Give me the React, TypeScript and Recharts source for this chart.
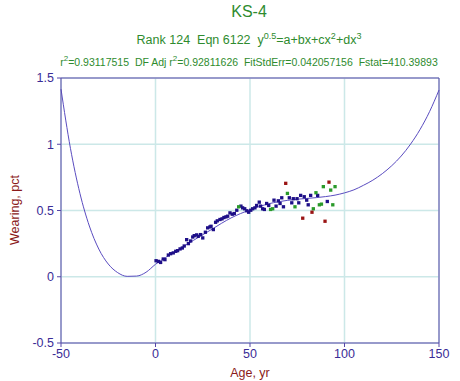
import { ComposedChart, Line, Scatter, XAxis, YAxis, ZAxis, CartesianGrid, ReferenceLine } from 'recharts'

// fitted curve, every 5 yr
const curveAge = [-50, -45, -40, -35, -30, -25, -20, -15, -10, -5, 0, 5, 10, 15, 20, 25, 30, 35, 40, 45, 50, 55, 60, 65, 70, 75, 80, 85, 90, 95, 100, 105, 110, 115, 120, 125, 130, 135, 140, 145, 150]
const curveWear = [1.416, 0.969, 0.63, 0.383, 0.209, 0.096, 0.031, 0.003, 0.005, 0.034, 0.094, 0.142, 0.186, 0.23, 0.274, 0.317, 0.36, 0.404, 0.444, 0.477, 0.505, 0.53, 0.551, 0.566, 0.577, 0.585, 0.591, 0.597, 0.605, 0.616, 0.633, 0.656, 0.69, 0.729, 0.778, 0.838, 0.911, 1.002, 1.112, 1.246, 1.409]

// measured points
const navyAge = [0.3, 1.5, 2.7, 4.1, 5.0, 6.8, 8.0, 9.4, 10.7, 11.7, 13.0, 14.2, 15.2, 16.5, 17.4, 18.6, 19.7, 20.5, 21.8, 22.6, 23.9, 25.0, 26.4, 27.6, 28.8, 29.4, 30.6, 31.8, 32.7, 34.1, 35.2, 36.2, 37.3, 38.2, 39.4, 40.6, 41.7, 43.0, 45.2, 46.1, 47.2, 48.3, 49.3, 50.4, 51.4, 52.6, 53.5, 54.9, 55.6, 56.7, 57.6, 58.8, 59.9, 62.7, 63.8, 65.0, 65.9, 66.8, 67.7, 70.8, 72.1, 72.9, 74.9, 75.8, 76.8, 78.7, 80.0, 80.8, 82.1, 85.8, 90.9]
const navyWear = [0.121, 0.116, 0.108, 0.134, 0.129, 0.164, 0.174, 0.18, 0.192, 0.197, 0.21, 0.217, 0.232, 0.28, 0.25, 0.27, 0.3, 0.31, 0.316, 0.305, 0.318, 0.293, 0.336, 0.369, 0.376, 0.381, 0.356, 0.411, 0.422, 0.432, 0.437, 0.447, 0.452, 0.457, 0.482, 0.472, 0.477, 0.502, 0.533, 0.52, 0.513, 0.498, 0.487, 0.502, 0.513, 0.52, 0.538, 0.563, 0.533, 0.513, 0.508, 0.553, 0.538, 0.578, 0.533, 0.573, 0.553, 0.596, 0.528, 0.596, 0.558, 0.589, 0.589, 0.558, 0.614, 0.604, 0.578, 0.543, 0.614, 0.614, 0.568]
const greenAge = [44.0, 60.9, 62.0, 69.8, 73.8, 83.5, 84.9, 86.7, 87.8, 88.8, 92.7, 93.8, 95.0]
const greenWear = [0.528, 0.508, 0.513, 0.629, 0.528, 0.513, 0.634, 0.543, 0.548, 0.68, 0.654, 0.543, 0.68]
const redAge = [68.9, 77.9, 82.8, 89.7, 91.8]
const redWear = [0.705, 0.442, 0.487, 0.419, 0.714]

const xTicks = [-50, 0, 50, 100, 150]
const yTicks = [-0.5, 0, 0.5, 1, 1.5]

const AXIS = '#5646a8'
const TICK = '#3a2c96'
const TITLE = '#2e8b2e'
const LABEL = '#8b1a1a'
const FONT = '"Liberation Sans", Arial, sans-serif'

const zip = (xs: number[], ys: number[]) => xs.map((x, i) => ({ x, y: ys[i] }))

export default function App() {
  const curve = zip(curveAge, curveWear)
  const navy = zip(navyAge, navyWear)
  const green = zip(greenAge, greenWear)
  const red = zip(redAge, redWear)

  return (
    <div style={{ position: 'relative', width: 460, height: 381, fontFamily: FONT, background: '#fff' }}>
      <style>{'body{margin:0}'}</style>
      <div style={{ position: 'absolute', left: 0, width: 498, top: 3, textAlign: 'center', fontSize: 16, color: TITLE }}>KS-4</div>
      <div style={{ position: 'absolute', left: 0, width: 498, top: 31, textAlign: 'center', fontSize: 12.5, color: TITLE }}>
        Rank 124&nbsp; Eqn 6122&nbsp; y<sup style={{ fontSize: 9 }}>0.5</sup>=a+bx+cx<sup style={{ fontSize: 9 }}>2</sup>+dx<sup style={{ fontSize: 9 }}>3</sup>
      </div>
      <div style={{ position: 'absolute', left: 0, width: 498, top: 54, textAlign: 'center', fontSize: 10.5, color: TITLE, whiteSpace: 'nowrap' }}>
        r<sup style={{ fontSize: 8 }}>2</sup>=0.93117515&nbsp; DF Adj r<sup style={{ fontSize: 8 }}>2</sup>=0.92811626&nbsp; FitStdErr=0.042057156&nbsp; Fstat=410.39893
      </div>
      <div style={{ position: 'absolute', left: 15, top: 210, transform: 'translate(-50%, -50%) rotate(-90deg)', fontSize: 12.5, color: LABEL, whiteSpace: 'nowrap' }}>
        Wearing, pct
      </div>
      <ComposedChart width={460} height={381} margin={{ top: 78, right: 21, bottom: 0, left: 0 }} style={{ position: 'absolute', left: 0, top: 0 }}>
        <CartesianGrid stroke="#cce8e8" strokeWidth={1.5} />
        <XAxis
          type="number"
          dataKey="x"
          domain={[-50, 150]}
          ticks={xTicks}
          height={38}
          stroke={AXIS}
          tickSize={4}
          tick={{ fill: TICK, fontSize: 12.5, fontFamily: FONT }}
          label={{ value: 'Age, yr', position: 'insideBottom', offset: 4, fill: LABEL, fontSize: 12.5, fontFamily: FONT }}
        />
        <YAxis
          type="number"
          dataKey="y"
          domain={[-0.5, 1.5]}
          ticks={yTicks}
          width={61}
          stroke={AXIS}
          tickSize={4}
          tickMargin={3}
          tick={{ fill: TICK, fontSize: 12.5, fontFamily: FONT }}
        />
        <ZAxis range={[11, 11]} />
        <ReferenceLine y={1.5} stroke={AXIS} />
        <ReferenceLine x={150} stroke={AXIS} />
        <Line data={curve} dataKey="y" type="monotone" stroke="#5a4cc0" strokeWidth={1} dot={false} isAnimationActive={false} />
        <Scatter data={navy} fill="#1e0f88" shape="square" isAnimationActive={false} />
        <Scatter data={green} fill="#2a9a2a" shape="square" isAnimationActive={false} />
        <Scatter data={red} fill="#9a1414" shape="square" isAnimationActive={false} />
      </ComposedChart>
    </div>
  )
}
